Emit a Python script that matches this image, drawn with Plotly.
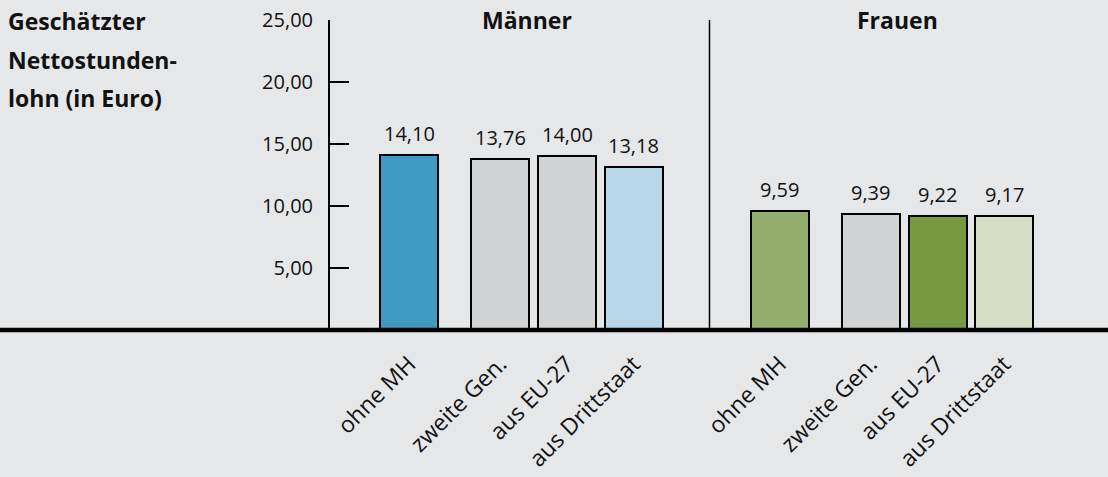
import plotly.graph_objects as go

# ---- data ----
categories = ["ohne MH", "zweite Gen.", "aus EU-27", "aus Drittstaat"]
groups = ["Männer", "Frauen"]
men_values = [14.10, 13.76, 14.00, 13.18]
women_values = [9.59, 9.39, 9.22, 9.17]
men_colors = ["#3f99c0", "#d2d3d5", "#d2d3d5", "#b9d5e8"]
women_colors = ["#92ad6e", "#d2d3d5", "#76993f", "#d6dfc6"]
y_ticks = [5, 10, 15, 20, 25]
title_lines = ["Geschätzter", "Nettostunden-", "lohn (in Euro)"]

# ---- layout constants (pixel-like x units) ----
W, H = 1108, 477
group_starts = [409, 779.5]
slot_offsets = [0, 91, 158, 224.5]
bar_width = 58
yaxis_x = 329
separator_x = 709.5
FONT = "Open Sans"
BG = "#e6e7e9"

men_x = [group_starts[0] + o for o in slot_offsets]
women_x = [group_starts[1] + o for o in slot_offsets]

fig = go.Figure()
for xs, vals, cols in [(men_x, men_values, men_colors), (women_x, women_values, women_colors)]:
    fig.add_trace(go.Bar(
        x=xs, y=vals, width=bar_width,
        marker=dict(color=cols, line=dict(color="black", width=2)),
        hoverinfo="skip", showlegend=False,
    ))
    for x, v in zip(xs, vals):
        fig.add_annotation(
            x=x, y=v, text=f"{v:.2f}".replace(".", ","), showarrow=False,
            yanchor="bottom", yshift=6, font=dict(family=FONT, size=20, color="#111"),
        )

# group titles
for g, xs in zip(groups, [men_x, women_x]):
    fig.add_annotation(
        x=sum(xs) / len(xs), xref="x", y=1, yref="paper", yshift=0,
        text=f"<b>{g}</b>", showarrow=False, yanchor="middle",
        font=dict(family=FONT, size=23, color="#111"),
    )

# left title
for i, line in enumerate(title_lines):
    fig.add_annotation(
        x=0, xref="paper", xanchor="left", xshift=6,
        y=1, yref="paper", yanchor="middle", yshift=-1 - 38.5 * i,
        text=f"<b>{line}</b>", showarrow=False,
        font=dict(family=FONT, size=23, color="#111"),
    )

# baseline and separator
fig.add_shape(type="line", xref="paper", yref="paper", x0=0, x1=1, y0=0, y1=0,
              line=dict(color="black", width=4.5), layer="above")
fig.add_shape(type="line", xref="x", yref="paper", x0=separator_x, x1=separator_x,
              y0=0, y1=1, line=dict(color="black", width=1.5), layer="above")

fig.update_layout(
    width=W, height=H,
    margin=dict(l=0, r=0, t=20, b=147),
    paper_bgcolor=BG, plot_bgcolor=BG,
    separators=",.",
    bargap=0,
    xaxis=dict(
        range=[0, W], showgrid=False, zeroline=False, showline=False,
        tickmode="array", tickvals=men_x + women_x, ticktext=categories + categories,
        tickangle=-45, ticks="", ticklabelstandoff=15,
        tickfont=dict(family=FONT, size=23, color="#111"),
    ),
    yaxis=dict(
        range=[0, 25], anchor="free", position=yaxis_x / W,
        showgrid=False, zeroline=False, showline=True, linecolor="black", linewidth=2,
        ticks="inside", ticklen=19, tickwidth=2, tickcolor="black",
        tickmode="array", tickvals=y_ticks, tickformat=".2f",
        ticklabelstandoff=11,
        tickfont=dict(family=FONT, size=20, color="#111"),
    ),
)

fig.write_html(
    "out.html",
    config={"displayModeBar": False},
    post_script=f"document.body.style.margin='0';document.body.style.background='{BG}';document.body.style.overflow='hidden';",
)
